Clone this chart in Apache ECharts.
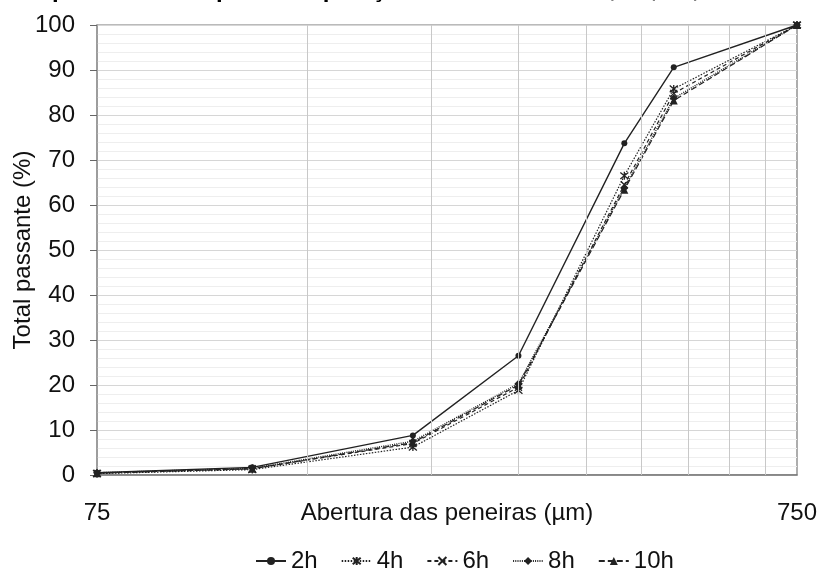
<!DOCTYPE html>
<html>
<head>
<meta charset="utf-8">
<script src="https://cdn.jsdelivr.net/npm/echarts@6/dist/echarts.min.js"></script>
<style>html,body{margin:0;padding:0;background:#fff}#c{width:822px;height:574px}</style>
</head>
<body>
<div id="c"></div>
<script>
const sieves = [75, 125, 212, 300, 425, 500, 750];
const s2h  = [0.5, 1.7, 8.8, 26.5, 73.7, 90.6, 100];
const s4h  = [0.3, 1.2, 6.2, 18.8, 66.5, 85.8, 100];
const s6h  = [0.4, 1.4, 7.0, 19.5, 64.5, 84.8, 100];
const s8h  = [0.5, 1.5, 7.5, 20.3, 63.8, 83.7, 100];
const s10h = [0.4, 1.4, 7.2, 20.0, 63.4, 83.2, 100];
const seriesNames = ['2h', '4h', '6h', '8h', '10h'];
const xGrid = [150, 225, 300, 375, 450, 525, 600, 675];
const xLabels = [75, 750];

const font = 'Liberation Sans, Arial, sans-serif';
const ink = '#222';
const pts = arr => sieves.map((x, i) => [x, arr[i]]);

const styles = [
  {data: s2h,  symbol: 'circle', size: 6, dash: 'solid', width: 1.4},
  {data: s4h,  symbol: 'path://M0,0L10,10M10,0L0,10M5,-1L5,11', size: 8, dash: [1.5, 1.5], width: 1.2},
  {data: s6h,  symbol: 'path://M0,0L10,10M10,0L0,10', size: 7, dash: [4, 3], width: 1.2},
  {data: s8h,  symbol: 'diamond', size: 8, dash: [1, 1.2], width: 1.4},
  {data: s10h, symbol: 'triangle', size: 8, dash: [6, 3], width: 1.2}
];

const series = styles.map((s, i) => ({
  name: seriesNames[i],
  type: 'line',
  z: 3,
  data: pts(s.data),
  symbol: s.symbol,
  symbolSize: s.size,
  showAllSymbol: true,
  lineStyle: {color: ink, width: s.width, type: s.dash},
  itemStyle: {color: ink, borderColor: ink, borderWidth: s.symbol.startsWith('path') ? 1.3 : 0}
}));

series.push({
  type: 'line',
  name: 'grid',
  z: 1,
  data: [],
  markLine: {
    silent: true,
    symbol: 'none',
    animation: false,
    label: {show: false},
    lineStyle: {color: '#c8c8c8', type: 'solid', width: 1},
    data: xGrid.map(v => ({xAxis: v}))
  }
});

const chart = echarts.init(document.getElementById('c'));
chart.setOption({
  animation: false,
  backgroundColor: '#fff',
  textStyle: {fontFamily: font},
  graphic: [{
    type: 'text',
    left: -68,
    top: -22,
    style: {
      text: 'Ensaio de peneiramento para composição das amostras 2h, 4h, 6h, 8h e 10h',
      font: 'bold 24px ' + font,
      fill: '#000'
    }
  }],
  grid: {left: 97, right: 25, top: 25, bottom: 99, show: true, borderColor: '#777', borderWidth: 1.2, outerBoundsMode: 'none', containLabel: false},
  legend: {
    data: seriesNames,
    left: 250,
    top: 544,
    itemWidth: 30,
    itemHeight: 10,
    itemGap: 23,
    textStyle: {fontSize: 24, color: '#111', fontFamily: font}
  },
  xAxis: {
    type: 'log',
    logBase: 10,
    min: 75,
    max: 750,
    name: 'Abertura das peneiras (µm)',
    nameLocation: 'middle',
    nameGap: 26,
    nameMoveOverlap: false,
    nameTextStyle: {fontSize: 24, color: '#111', fontFamily: font, verticalAlign: 'top'},
    axisLine: {show: true, lineStyle: {color: '#777', width: 1.5}},
    axisTick: {show: false},
    splitLine: {show: false},
    axisLabel: {
      fontSize: 24, color: '#111', margin: 26, fontFamily: font,
      showMinLabel: true, showMaxLabel: true,
      formatter: v => xLabels.includes(Math.round(v)) ? String(Math.round(v)) : ''
    }
  },
  yAxis: {
    type: 'value',
    min: 0,
    max: 100,
    interval: 10,
    name: 'Total passante (%)',
    nameLocation: 'middle',
    nameGap: 62,
    nameMoveOverlap: false,
    nameTextStyle: {fontSize: 24, color: '#111', fontFamily: font},
    axisLine: {show: true, lineStyle: {color: '#999', width: 1.5}},
    axisTick: {show: true, inside: false, length: 7, lineStyle: {color: '#666'}},
    axisLabel: {fontSize: 24, color: '#111', margin: 22, fontFamily: font},
    splitLine: {show: true, lineStyle: {color: '#d6d6d6', width: 1}},
    minorTick: {show: false, splitNumber: 5},
    minorSplitLine: {show: true, lineStyle: {color: '#eeeeee', width: 1}}
  },
  series: series
});
</script>
</body>
</html>
